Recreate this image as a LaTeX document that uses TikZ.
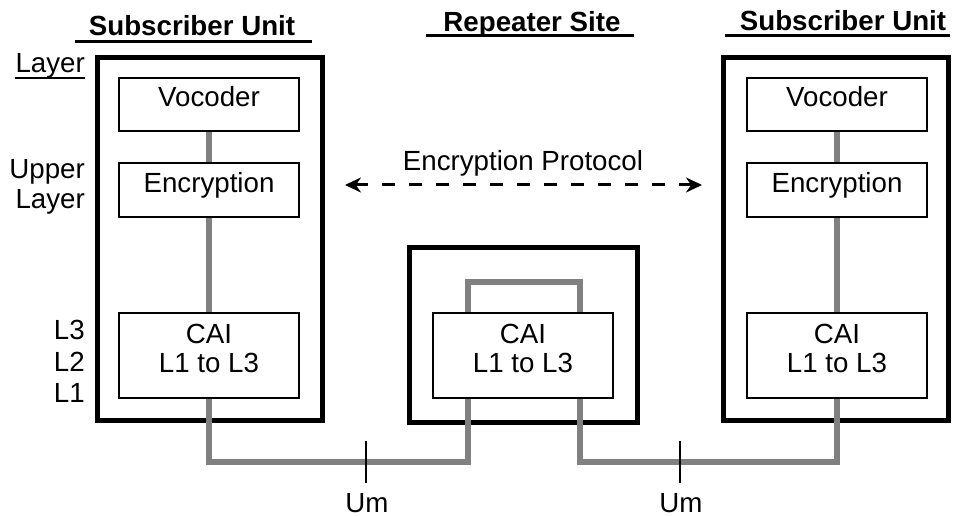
\documentclass[tikz,border=0pt]{standalone}
\usepackage{fontspec}
\setmainfont{Liberation Sans}
\usetikzlibrary{arrows.meta}
\definecolor{linkgray}{RGB}{128,128,128}
\pgfdeclarelayer{bg}
\pgfsetlayers{bg,main}
\begin{document}
\begin{tikzpicture}[x=1pt,y=-1pt,
  txt/.style={font=\fontsize{27.7}{30}\selectfont, inner sep=0pt, anchor=base},
  rtxt/.style={txt, anchor=base east},
  ttl/.style={font=\bfseries\fontsize{27.7}{30}\selectfont, inner sep=0pt, anchor=base},
  frame/.style={draw, line width=5pt, inner sep=0pt},
  layerbox/.style={draw, line width=1.8pt, fill=white, inner sep=0pt, minimum width=180pt},
  link/.style={draw=linkgray, line width=6pt, line join=miter},
  rule/.style={line width=3pt},
  tick/.style={line width=2pt},
  proto/.style={line width=3pt, dash pattern=on 13pt off 14pt,
    {Stealth[length=16pt,width=15pt]}-{Stealth[length=16pt,width=15pt]}}
]
\useasboundingbox (0,0) rectangle (954,516);

% outer frames: two subscriber units and the repeater site
\begin{pgfonlayer}{bg}
  \node[frame, minimum width=225pt, minimum height=362pt] (su1) at (209.5,239) {};
  \node[frame, minimum width=225pt, minimum height=362pt] (su2) at (835.5,239) {};
  \node[frame, minimum width=228pt, minimum height=175pt] (rs) at (523,334.5) {};
\end{pgfonlayer}

% column titles
\node[ttl] (t1) at (192,36) {Subscriber Unit};
\draw[rule] (75,42) -- (312,42);
\node[ttl] (t2) at (532,32) {Repeater Site};
\draw[rule] (426,36) -- (634,36);
\node[ttl] (t3) at (843,31) {Subscriber Unit};
\draw[rule] (725,36) -- (950,36);

% layer labels
\node[rtxt] (lay) at (85,73) {Layer};
\draw[line width=2pt] (15,78.5) -- (85,78.5);
\node[rtxt] (up1) at (85,179) {Upper};
\node[rtxt] (up2) at (85,209) {Layer};
\node[rtxt] (l3) at (85,339) {L3};
\node[rtxt] (l2) at (85,371) {L2};
\node[rtxt] (l1) at (85,402) {L1};

% left subscriber stack
\node[layerbox, minimum height=53pt] (voc1) at (209,104.5) {};
\node[txt] (voc1t) at (209,107) {Vocoder};
\node[layerbox, minimum height=54pt] (enc1) at (209,190) {};
\node[txt] (enc1t) at (209,193) {Encryption};
\node[layerbox, minimum height=85pt] (cai1) at (209,355.5) {};
\node[txt] (cai1a) at (209,343) {CAI};
\node[txt] (cai1b) at (209,372) {L1 to L3};

% repeater
\node[layerbox, minimum height=85pt] (cai2) at (523,355.5) {};
\node[txt] (cai2a) at (523,343) {CAI};
\node[txt] (cai2b) at (523,372) {L1 to L3};

% right subscriber stack
\node[layerbox, minimum height=53pt] (voc3) at (837,104.5) {};
\node[txt] (voc3t) at (837,107) {Vocoder};
\node[layerbox, minimum height=54pt] (enc3) at (837,190) {};
\node[txt] (enc3t) at (837,193) {Encryption};
\node[layerbox, minimum height=85pt] (cai3) at (837,355.5) {};
\node[txt] (cai3a) at (837,343) {CAI};
\node[txt] (cai3b) at (837,372) {L1 to L3};

% air interface path through the repeater
\coordinate (k1) at (468,462);
\coordinate (k2) at (468,282);
\coordinate (k3) at (580,282);
\coordinate (k4) at (580,462);
\begin{pgfonlayer}{bg}
  \draw[link] (voc1.center) -- (enc1.center) -- (cai1.center);
  \draw[link] (voc3.center) -- (enc3.center) -- (cai3.center);
  \draw[link] (cai1.center) |- (k1) -- (k2) -- (k3) -- (k4) -| (cai3.center);
\end{pgfonlayer}

% Um reference points
\node[txt] (um1) at (367,512) {Um};
\coordinate (u1a) at (366,441);
\coordinate (u1b) at (366,483);
\draw[tick] (u1a) -- (u1b);
\node[txt] (um2) at (681,512) {Um};
\coordinate (u2a) at (680,441);
\coordinate (u2b) at (680,483);
\draw[tick] (u2a) -- (u2b);

% end-to-end encryption protocol
\node[txt] (ep) at (523,171) {Encryption Protocol};
\coordinate (ap1) at (345,185);
\coordinate (ap2) at (702,185);
\draw[proto] (ap1) -- (ap2);
\end{tikzpicture}
\end{document}
